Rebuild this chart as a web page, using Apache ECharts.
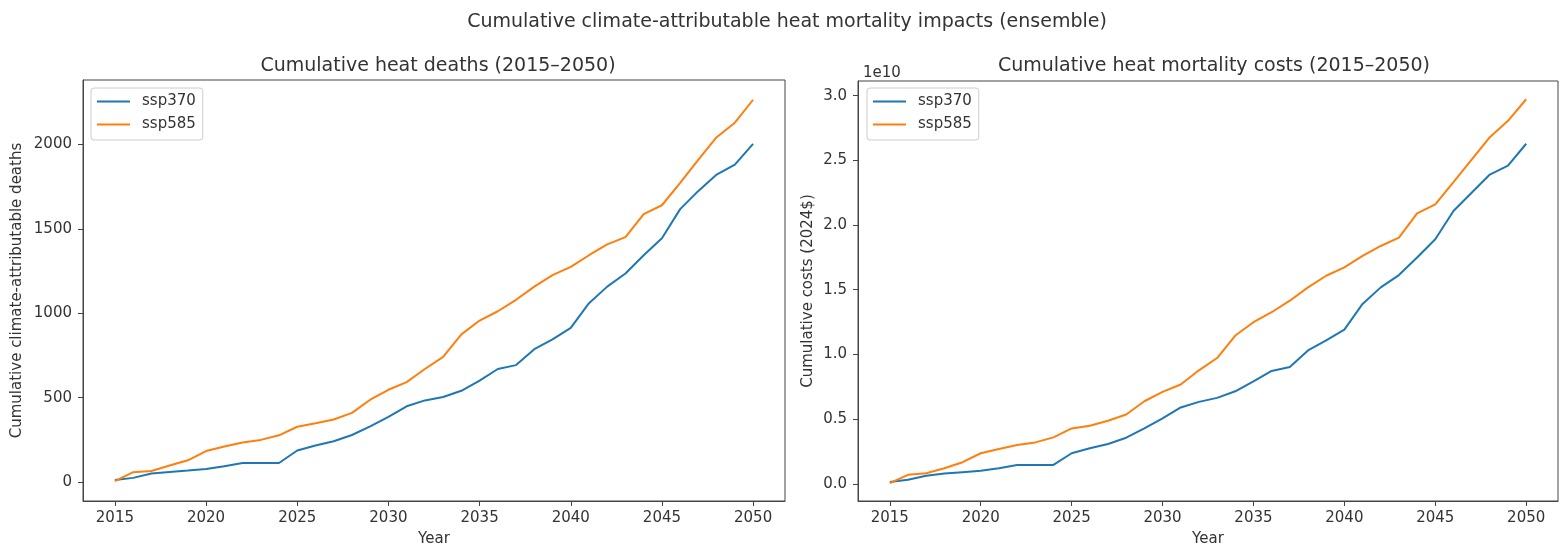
<!DOCTYPE html>
<html>
<head>
<meta charset="utf-8">
<script src="https://cdn.jsdelivr.net/npm/echarts@6/dist/echarts.min.js"></script>
<style>
  html, body { margin: 0; padding: 0; background: #fff; }
  #chart { width: 1560px; height: 552px; }
</style>
</head>
<body>
<div id="chart"></div>
<script>
// ---- data ----
const years = [2015,2016,2017,2018,2019,2020,2021,2022,2023,2024,2025,2026,2027,2028,2029,2030,2031,2032,2033,2034,2035,2036,2037,2038,2039,2040,2041,2042,2043,2044,2045,2046,2047,2048,2049,2050];
const deaths370 = [12,25,51,60,68,78,94,113,113,113,187,217,242,279,330,387,449,484,504,541,601,670,693,787,846,914,1060,1158,1236,1344,1445,1617,1725,1822,1881,2004];
const deaths585 = [6,59,66,98,129,184,211,234,250,277,328,348,371,410,488,547,592,670,742,875,957,1012,1080,1158,1226,1275,1344,1408,1451,1588,1640,1773,1910,2043,2129,2265];
// costs in units of 1e10 (2024$)
const costs370 = [0.013,0.031,0.062,0.079,0.090,0.100,0.120,0.146,0.146,0.146,0.236,0.274,0.308,0.356,0.428,0.505,0.590,0.633,0.664,0.715,0.792,0.872,0.903,1.031,1.108,1.192,1.390,1.518,1.613,1.749,1.890,2.108,2.249,2.390,2.459,2.628];
const costs585 = [0.005,0.069,0.082,0.120,0.167,0.236,0.269,0.300,0.320,0.359,0.428,0.449,0.487,0.536,0.638,0.710,0.767,0.877,0.972,1.146,1.249,1.326,1.415,1.518,1.608,1.672,1.761,1.838,1.902,2.090,2.159,2.331,2.505,2.679,2.805,2.972];
const xTicks = [2015,2020,2025,2030,2035,2040,2045,2050];
const deathTicks = [0,500,1000,1500,2000];
const costTicks = [0,0.5,1.0,1.5,2.0,2.5,3.0];
const seriesNames = ['ssp370','ssp585'];

const FONT = 'DejaVu Sans';
const TXT = '#333';
const BLUE = '#1f77b4', ORANGE = '#ff7f0e';

const pair = (xs, ys) => xs.map((x, i) => [x, ys[i]]);

function xAxisCfg(gridIndex) {
  return {
    type: 'value', gridIndex, min: 2013.25, max: 2051.75,
    name: 'Year', nameLocation: 'middle', nameGap: 31,
    nameTextStyle: { fontFamily: FONT, fontSize: 15, color: TXT },
    axisLine: { show: true, onZero: false, lineStyle: { color: '#444', width: 1 } },
    axisTick: { show: true, length: 5, lineStyle: { color: '#444' }, customValues: xTicks },
    axisLabel: { fontFamily: FONT, fontSize: 15, color: TXT, margin: 10, customValues: xTicks, formatter: v => String(v) },
    splitLine: { show: false }
  };
}
function yAxisCfg(gridIndex, min, max, ticks, name, gap, fmt) {
  return {
    type: 'value', gridIndex, min, max,
    name, nameLocation: 'middle', nameGap: gap, nameRotate: 90,
    nameTextStyle: { fontFamily: FONT, fontSize: 15, color: TXT },
    axisLine: { show: true, onZero: false, lineStyle: { color: '#444', width: 1 } },
    axisTick: { show: true, length: 5, lineStyle: { color: '#444' }, customValues: ticks },
    axisLabel: { fontFamily: FONT, fontSize: 15, color: TXT, margin: 11, customValues: ticks, formatter: fmt },
    splitLine: { show: false }
  };
}
function lineSeries(name, color, xi, data) {
  return {
    type: 'line', name, xAxisIndex: xi, yAxisIndex: xi,
    data, symbol: 'none', showSymbol: false,
    lineStyle: { color, width: 2 }, itemStyle: { color },
    animation: false
  };
}
function legendCfg(left) {
  return {
    data: seriesNames, orient: 'vertical', left, top: 88,
    icon: 'rect', itemWidth: 33, itemHeight: 2, itemGap: 8,
    padding: [6, 7, 8, 6],
    borderColor: '#ccc', borderWidth: 1, borderRadius: 3,
    backgroundColor: 'rgba(255,255,255,0.8)',
    textStyle: { fontFamily: FONT, fontSize: 15, color: TXT, padding: [0, 0, 0, 7] },
    selectedMode: false
  };
}

const chart = echarts.init(document.getElementById('chart'), null, { renderer: 'canvas' });
chart.setOption({
  backgroundColor: '#fff',
  animation: false,
  title: [
    { text: 'Cumulative climate-attributable heat mortality impacts (ensemble)', left: 782, textAlign: 'center', top: 8,
      textStyle: { fontFamily: FONT, fontSize: 19, fontWeight: 'normal', color: TXT } },
    { text: 'Cumulative heat deaths (2015\u20132050)', left: 433, textAlign: 'center', top: 52,
      textStyle: { fontFamily: FONT, fontSize: 19, fontWeight: 'normal', color: TXT } },
    { text: 'Cumulative heat mortality costs (2015\u20132050)', left: 1209, textAlign: 'center', top: 52,
      textStyle: { fontFamily: FONT, fontSize: 19, fontWeight: 'normal', color: TXT } },
    { text: '1e10', left: 858, top: 61,
      textStyle: { fontFamily: FONT, fontSize: 15, fontWeight: 'normal', color: TXT } }
  ],
  grid: [
    { left: 83, top: 80, width: 702, height: 424, show: true, borderColor: '#444', borderWidth: 1, backgroundColor: 'transparent' },
    { left: 858, top: 81, width: 700, height: 422, show: true, borderColor: '#444', borderWidth: 1, backgroundColor: 'transparent' }
  ],
  legend: [legendCfg(91), legendCfg(867)],
  xAxis: [xAxisCfg(0), xAxisCfg(1)],
  yAxis: [
    yAxisCfg(0, -112, 2382, deathTicks, 'Cumulative climate-attributable deaths', 58, v => String(v)),
    yAxisCfg(1, -0.133, 3.113, costTicks, 'Cumulative costs (2024$)', 42, v => v.toFixed(1))
  ],
  series: [
    lineSeries(seriesNames[0], BLUE, 0, pair(years, deaths370)),
    lineSeries(seriesNames[1], ORANGE, 0, pair(years, deaths585)),
    lineSeries(seriesNames[0], BLUE, 1, pair(years, costs370)),
    lineSeries(seriesNames[1], ORANGE, 1, pair(years, costs585))
  ]
});
</script>
</body>
</html>
